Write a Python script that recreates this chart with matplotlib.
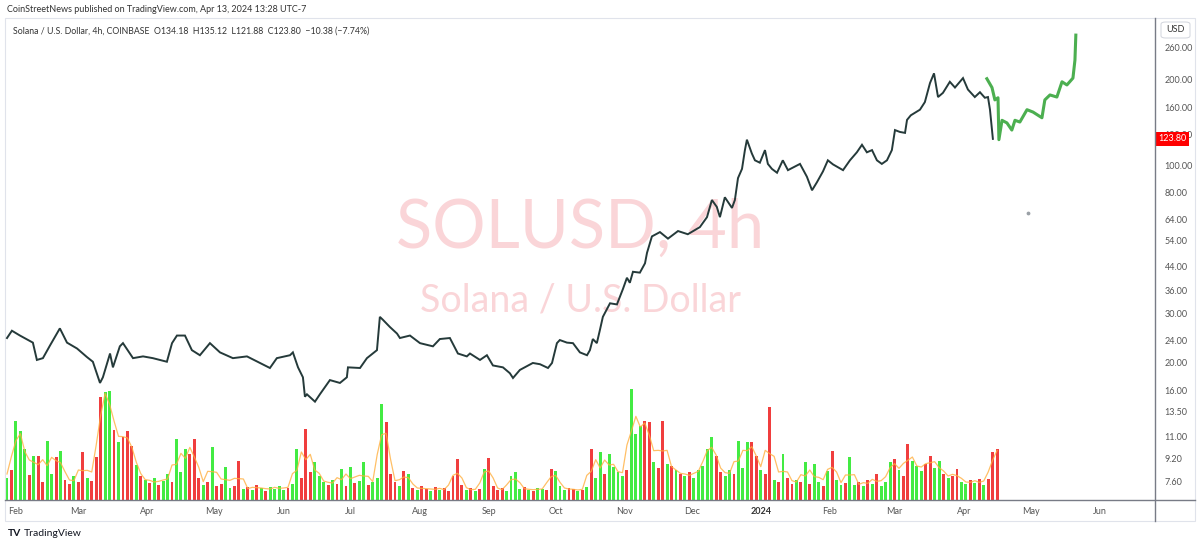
import datetime as dt
import pandas as pd
import matplotlib
matplotlib.use('Agg')
import matplotlib.pyplot as plt
from matplotlib.lines import Line2D
from matplotlib.patches import Rectangle, FancyBboxPatch
from matplotlib.ticker import FixedLocator, NullLocator
from matplotlib.transforms import blended_transform_factory

plt.rcParams['font.family'] = ['Lato', 'DejaVu Sans']

BASE = dt.datetime(2023, 2, 1)

# price path, days counted from 2023-02-01
price_day = [
    -4.0, -1.8, 1.8, 7.6, 9.4, 12.1, 15.2, 19.7, 22.9, 27.4, 31.8, 34.5, 37.7,
    39.0, 42.2, 43.5, 46.6, 48.0, 52.5, 57.0, 61.4, 67.7, 70.0, 72.2, 75.8,
    78.9, 82.5, 87.0, 91.5, 97.3, 103.6, 109.4, 113.9, 117.0, 122.9, 124.2,
    126.5, 128.7, 129.6, 130.5, 134.1, 136.3, 140.8, 145.3, 148.4, 148.9,
    154.3, 157.4, 161.9, 163.2, 164.6, 167.7, 170.9, 172.2, 176.7, 181.2,
    187.0, 190.1, 194.6, 198.2, 202.2, 203.6, 208.1, 211.2, 213.9, 218.4,
    221.5, 222.9, 226.0, 231.8, 235.0, 238.6, 240.4, 242.6, 243.9, 247.1,
    249.8, 252.9, 256.1, 257.4, 258.7, 260.5, 261.9, 263.2, 266.4, 269.5,
    272.2, 274.0, 275.3, 276.7, 279.8, 282.1, 283.0, 285.2, 288.8, 292.4,
    296.9, 301.3, 304.5, 306.7, 309.9, 312.1, 314.3, 315.7, 317.9, 321.1,
    322.4, 323.8, 325.6, 326.9, 327.8, 330.0, 331.4, 333.6, 335.9, 337.2,
    339.0, 341.3, 343.9, 346.2, 348.4, 351.6, 354.7, 357.0, 359.2, 361.9,
    364.1, 366.4, 370.9, 374.0, 377.1, 379.4, 381.6, 383.9, 386.1, 388.3,
    390.6, 392.8, 394.2, 396.4, 398.7, 399.6, 401.3, 405.4, 407.6, 409.9,
    411.7, 413.5, 415.7, 418.8, 421.1, 424.7, 426.9, 430.0, 432.3, 434.5,
    435.9, 436.8, 438.1,
]
price = [
    24.5, 26.0, 25.0, 23.6, 20.5, 20.8, 23.0, 26.5, 23.6, 22.5, 21.0, 20.2, 17.0,
    17.8, 21.6, 19.3, 22.9, 23.5, 20.8, 21.1, 20.8, 20.2, 23.5, 25.0, 25.0,
    22.2, 21.3, 23.5, 21.8, 20.8, 21.1, 20.0, 19.2, 20.8, 21.3, 21.8,
    19.3, 17.8, 15.2, 15.5, 14.6, 15.5, 17.4, 17.0, 17.8, 19.3,
    19.2, 20.8, 22.2, 29.1, 28.4, 26.8, 25.4, 24.5, 25.0, 23.5,
    22.9, 24.3, 24.5, 21.6, 21.1, 21.6, 20.5, 21.3, 19.6, 19.3,
    18.4, 17.7, 18.9, 20.0, 19.8, 19.2, 20.0, 23.5, 24.1, 23.6,
    23.5, 21.8, 21.3, 22.2, 24.3, 23.5, 26.2, 29.1, 32.5, 32.2,
    36.5, 40.0, 38.4, 42.0, 41.7, 45.0, 49.0, 56.0, 58.0, 55.0,
    58.5, 57.0, 59.0, 60.4, 65.5, 75.3, 71.2, 65.5, 77.0, 70.6,
    75.3, 90.0, 97.0, 113.0, 123.0, 110.0, 104.0, 102.0, 113.0, 101.0,
    97.0, 94.0, 104.0, 96.0, 98.0, 101.0, 91.0, 81.5, 87.0, 95.0,
    104.0, 100.6, 96.0, 104.0, 111.0, 118.0, 111.0, 113.0, 104.0, 101.0,
    104.0, 113.0, 133.0, 131.0, 130.0, 144.5, 150.0, 157.0, 167.0, 195.0,
    211.0, 174.0, 180.0, 197.0, 188.0, 203.0, 185.0, 174.0, 181.0, 173.0,
    174.0, 157.0, 123.8,
]

# green projection drawn on top of the chart
proj_day = [
    435.4, 437.7, 439.0, 440.4, 440.8, 442.2, 444.4, 446.6, 448.0, 450.2,
    453.4, 456.1, 460.1, 461.4, 463.7, 466.8, 469.1, 471.3, 474.0, 474.9, 475.3,
]
proj_price = [
    202, 188, 170, 173, 123, 144, 141, 133, 144, 142,
    157, 154, 147, 170, 177, 174, 197, 192, 203, 235, 288,
]
stray_day = [453.8]
stray_price = [67.8]

# volume, one bar per two days starting 2023-01-27 (relative units)
VOL_START = dt.datetime(2023, 1, 27)
volume = [
    22, 30, 79, 69, 51, 25, 44, 44, 18, 59,
    26, 43, 49, 20, 16, 24, 18, 48, 22, 19,
    43, 103, 108, 109, 70, 58, 63, 69, 54, 35,
    24, 20, 17, 22, 15, 19, 26, 18, 61, 28,
    51, 46, 61, 22, 15, 18, 53, 14, 16, 33,
    12, 14, 39, 11, 13, 10, 15, 12, 9, 13,
    11, 14, 10, 12, 16, 51, 22, 71, 28, 38,
    24, 18, 15, 20, 16, 31, 14, 33, 17, 19,
    38, 15, 18, 22, 96, 78, 26, 18, 14, 29,
    26, 12, 10, 14, 11, 9, 13, 10, 12, 9,
    24, 41, 15, 10, 12, 9, 11, 31, 42, 14,
    10, 12, 9, 24, 28, 11, 13, 10, 9, 12,
    11, 10, 31, 29, 14, 10, 12, 11, 9, 10,
    13, 51, 22, 48, 26, 46, 33, 28, 24, 30,
    111, 66, 74, 79, 78, 38, 32, 79, 36, 34,
    30, 26, 24, 28, 22, 30, 34, 51, 63, 44,
    28, 24, 30, 26, 59, 32, 58, 58, 44, 30,
    26, 93, 20, 18, 46, 22, 16, 20, 18, 38,
    16, 36, 18, 14, 29, 49, 20, 15, 17, 43,
    15, 18, 14, 20, 16, 26, 14, 18, 38, 41,
    30, 24, 56, 39, 34, 29, 36, 44, 32, 39,
    26, 22, 24, 31, 18, 16, 20, 17, 21, 15,
    21, 48, 51,
]
vol_side = (
    "grgggrgrrg" "grgrrgrrgr" "rrggrgrrrg" "rgrgrggrgg" "grrrgrgrrg"
    "grrgrgrgrg" "gggrggrrrg" "ggrgrgrgrg" "grgggrrrgr" "grgrrgrgrr"
    "rrrgrgrgrr" "rrggggrgrg" "grrgggrrgr" "grggrggggr" "gggrrgrrgr"
    "grgrgggggr" "rggrgggrrg" "rrgrgrrgrg" "rggrgrggrg" "grgrgrgggr"
    "grrgggrrgg" "rgrrggrgrg" "rrr"
)

price_ticks = [7.6, 9.2, 11, 13.5, 16, 20, 24, 30, 36, 44, 54, 64, 80, 100,
               128, 160, 200, 260]
month_ticks = ['2023-02-01', '2023-03-01', '2023-04-01', '2023-05-01',
               '2023-06-01', '2023-07-01', '2023-08-01', '2023-09-01',
               '2023-10-01', '2023-11-01', '2023-12-01', '2024-01-01',
               '2024-02-01', '2024-03-01', '2024-04-01', '2024-05-01',
               '2024-06-01']
month_labels = ['Feb', 'Mar', 'Apr', 'May', 'Jun', 'Jul', 'Aug', 'Sep', 'Oct',
                'Nov', 'Dec', '2024', 'Feb', 'Mar', 'Apr', 'May', 'Jun']
last_close = 123.80


def to_dates(days):
    return [BASE + dt.timedelta(days=d) for d in days]


W, H = 1200, 548
fig = plt.figure(figsize=(W / 100, H / 100), dpi=100)
rect = [5 / W, 48 / H, 1150 / W, 482 / H]

vax = fig.add_axes(rect)
ax = fig.add_axes(rect, sharex=vax)
vax.set_zorder(1)
ax.set_zorder(2)
ax.patch.set_visible(False)

# volume pane
vol_dates = [VOL_START + dt.timedelta(days=2 * i + 1) for i in range(len(volume))]
vol_colors = ['#22e822' if s == 'g' else '#ee1c1c' for s in vol_side]
vax.bar(vol_dates, volume, width=1.3, color=vol_colors, alpha=0.85, linewidth=0)
vol_ma = pd.Series(volume).rolling(3, center=True, min_periods=1).mean()
vax.plot(vol_dates, vol_ma, color='#ffb040', lw=0.9, alpha=0.8)
vax.set_ylim(0, 482)
vax.axis('off')

# watermark
ax.text(0.5, 0.562, 'SOLUSD, 4h', transform=ax.transAxes, ha='center',
        va='center', fontsize=48, color='#fad5d8', zorder=0)
ax.text(0.5, 0.413, 'Solana / U.S. Dollar', transform=ax.transAxes,
        ha='center', va='center', fontsize=27, color='#fad5d8', zorder=0)

# price and projection
ax.plot(to_dates(price_day), price, color='#253a3a', lw=1.4,
        solid_joinstyle='miter', zorder=3)
ax.plot(to_dates(proj_day), proj_price, color='#4caf50', lw=2.2, zorder=4)
ax.scatter(to_dates(stray_day), stray_price, s=3, color='#9aa0a6', zorder=3)

ax.set_yscale('log')
ax.set_ylim(6.56, 331)
ax.set_xlim(BASE - dt.timedelta(days=4.9), BASE + dt.timedelta(days=510.8))
ax.yaxis.set_major_locator(FixedLocator(price_ticks))
ax.yaxis.set_minor_locator(NullLocator())
ax.set_yticklabels([f'{t:.2f}' for t in price_ticks])
ax.yaxis.tick_right()
ax.tick_params(axis='y', which='both', length=0, pad=7, labelsize=6.5,
               labelcolor='#555555')

ax.set_xticks(pd.to_datetime(month_ticks))
ax.set_xticklabels(month_labels)
ax.tick_params(axis='x', length=0, pad=5, labelsize=6.5, labelcolor='#555555')
for lbl in ax.get_xticklabels():
    if lbl.get_text() == '2024':
        lbl.set_fontweight('bold')
        lbl.set_color('#333333')
for sp in ax.spines.values():
    sp.set_visible(False)

# last price badge
tr = blended_transform_factory(ax.transAxes, ax.transData)
ax.text(1.003, last_close, f'{last_close:.2f}', transform=tr, ha='left',
        va='center', fontsize=6.5, color='white', zorder=10, clip_on=False,
        bbox=dict(boxstyle='square,pad=0.3', fc='#ff0000', ec='none'))

# frame and pane separators
fig.patches.append(Rectangle((5 / W, 27 / H), 1190 / W, 503 / H,
                             transform=fig.transFigure, fill=False,
                             ec='#e0e3eb', lw=0.8))
fig.lines.append(Line2D([1155 / W, 1155 / W], [27 / H, 530 / H],
                        transform=fig.transFigure, color='#787b86', lw=1))
fig.lines.append(Line2D([5 / W, 1195 / W], [48 / H, 48 / H],
                        transform=fig.transFigure, color='#787b86', lw=1))

# USD box
fig.patches.append(FancyBboxPatch((1161 / W, 1 - 38 / H), 29 / W, 16 / H,
                                  boxstyle='round,pad=0,rounding_size=0.004',
                                  transform=fig.transFigure, fc='white',
                                  ec='#d1d4dc', lw=0.7, zorder=5))
fig.text(1175.5 / W, 1 - 30 / H, 'USD', ha='center', va='center',
         fontsize=6.5, color='#333333', zorder=6)

# header, legend and footer
fig.text(7 / W, 1 - 10 / H,
         'CoinStreetNews published on TradingView.com, Apr 13, 2024 13:28 UTC-7',
         ha='left', va='center', fontsize=6.5, color='#333333')
fig.text(13 / W, 1 - 31 / H,
         'Solana / U.S. Dollar, 4h, COINBASE  O134.18  H135.12  L121.88  '
         'C123.80  \u221210.38 (\u22127.74%)',
         ha='left', va='center', fontsize=6.3, color='#333333')
fig.text(8 / W, 1 - 534 / H, 'TV', ha='left', va='center', fontsize=7.5,
         fontweight='bold', color='#131722')
fig.text(24 / W, 1 - 534 / H, 'TradingView', ha='left', va='center',
         fontsize=7.5, color='#131722')

fig.savefig('out.png', dpi=100)
